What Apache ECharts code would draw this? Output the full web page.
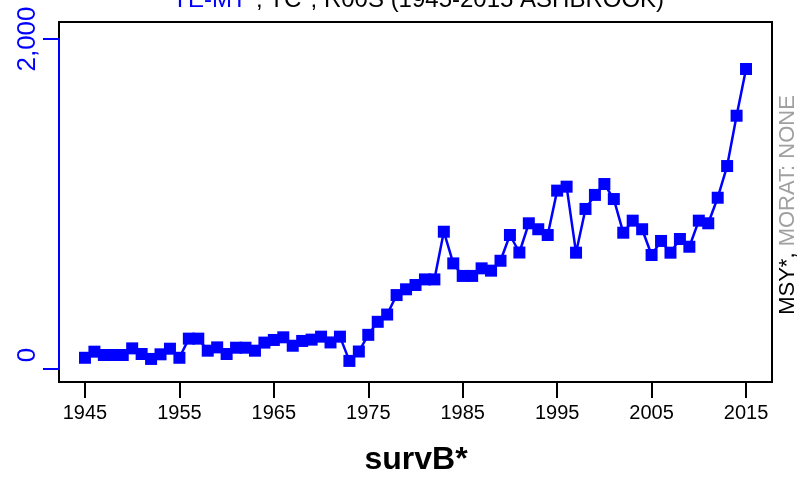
<!DOCTYPE html>
<html><head><meta charset="utf-8">
<script src="https://cdn.jsdelivr.net/npm/echarts@6/dist/echarts.min.js"></script>
<style>html,body{margin:0;padding:0;background:#fff}#c{width:801px;height:479px}</style>
</head><body><div id="c"></div>
<script>
const years = [1945,1946,1947,1948,1949,1950,1951,1952,1953,1954,1955,1956,1957,1958,1959,1960,1961,1962,1963,1964,1965,1966,1967,1968,1969,1970,1971,1972,1973,1974,1975,1976,1977,1978,1979,1980,1981,1982,1983,1984,1985,1986,1987,1988,1989,1990,1991,1992,1993,1994,1995,1996,1997,1998,1999,2000,2001,2002,2003,2004,2005,2006,2007,2008,2009,2010,2011,2012,2013,2014,2015];
const values = [68,105,85,85,85,125,91,61,89,123,68,184,184,111,131,91,129,129,111,160,176,192,141,170,178,196,161,196,49,106,207,286,330,448,483,509,543,543,832,640,564,564,610,596,656,812,706,883,847,812,1081,1105,705,970,1055,1121,1030,826,899,847,691,776,705,788,741,899,883,1038,1230,1535,1818];
const xTicks = [1945,1955,1965,1975,1985,1995,2005,2015];
const yTicks = [0,2000];
const titleBlue = 'YE-MT*';
const titleRest = ', TC*, R00S (1945-2015 ASHBROOK)';
const xName = 'survB*';
const rightBlack = 'MSY*,';
const rightGray = ' MORAT: NONE';

const FONT = '"Liberation Sans", Arial, Helvetica, sans-serif';
const chart = echarts.init(document.getElementById('c'), null, {renderer: 'canvas'});
chart.setOption({
  animation: false,
  backgroundColor: '#fff',
  grid: [
    {left: 59, top: 22, right: 29, bottom: 97, show: true, borderColor: '#000', borderWidth: 2, backgroundColor: 'transparent'},
    {left: 59, top: 39, width: 1, height: 330, show: false}
  ],
  xAxis: [
    {gridIndex: 0, type: 'value', min: 1942.25, max: 2017.75,
     axisLine: {show: true, onZero: false, lineStyle: {color: '#000', width: 2}},
     axisTick: {show: true, inside: false, length: 16, customValues: xTicks, lineStyle: {color: '#000', width: 2}},
     axisLabel: {show: true, customValues: xTicks, margin: 21, fontSize: 20, color: '#000', fontFamily: FONT, formatter: v => String(v)},
     splitLine: {show: false}},
    {gridIndex: 1, type: 'value', show: false, min: 0, max: 1}
  ],
  yAxis: [
    {gridIndex: 0, type: 'value', min: -78.8, max: 2103, show: false, splitLine: {show: false}},
    {gridIndex: 1, type: 'value', min: yTicks[0], max: yTicks[1], interval: 2000,
     axisLine: {show: true, lineStyle: {color: '#0000FF', width: 2}},
     axisTick: {show: true, inside: false, length: 16, lineStyle: {color: '#0000FF', width: 2}},
     axisLabel: {show: true, rotate: 90, margin: 18, fontSize: 26, color: '#0000FF', fontFamily: FONT,
       formatter: v => v === 0 ? '{z|0}' : (v === 2000 ? '2,000' : String(v)),
       rich: {z: {fontSize: 26, color: '#0000FF', fontFamily: FONT, padding: [0, 0, 0, 28]}}},
     splitLine: {show: false}}
  ],
  series: [{
    type: 'line', xAxisIndex: 0, yAxisIndex: 0,
    data: years.map((y, i) => [y, values[i]]),
    symbol: 'rect', symbolSize: 12,
    lineStyle: {color: '#0000FF', width: 2.5},
    itemStyle: {color: '#0000FF'},
    z: 5
  }],
  graphic: [
    {type: 'text', x: 418, y: 0.5, z: 10, style: {
      text: '{b|' + titleBlue + '}{k|' + titleRest + '}', align: 'center', verticalAlign: 'middle',
      rich: {b: {fontSize: 24, fill: '#0000FF', fontFamily: FONT}, k: {fontSize: 24, fill: '#000', fontFamily: FONT}}}},
    {type: 'text', x: 416, y: 460, z: 10, style: {
      text: xName, align: 'center', verticalAlign: 'middle', fontSize: 32, fontWeight: 'bold', fill: '#000', fontFamily: FONT}},
    {type: 'text', x: 788, y: 205, rotation: Math.PI / 2, z: 10, style: {
      text: '{k|' + rightBlack + '}{g|' + rightGray + '}', align: 'center', verticalAlign: 'middle',
      rich: {k: {fontSize: 22, fill: '#000', fontFamily: FONT}, g: {fontSize: 22, fill: '#A0A0A0', fontFamily: FONT}}}}
  ]
});
</script></body></html>
